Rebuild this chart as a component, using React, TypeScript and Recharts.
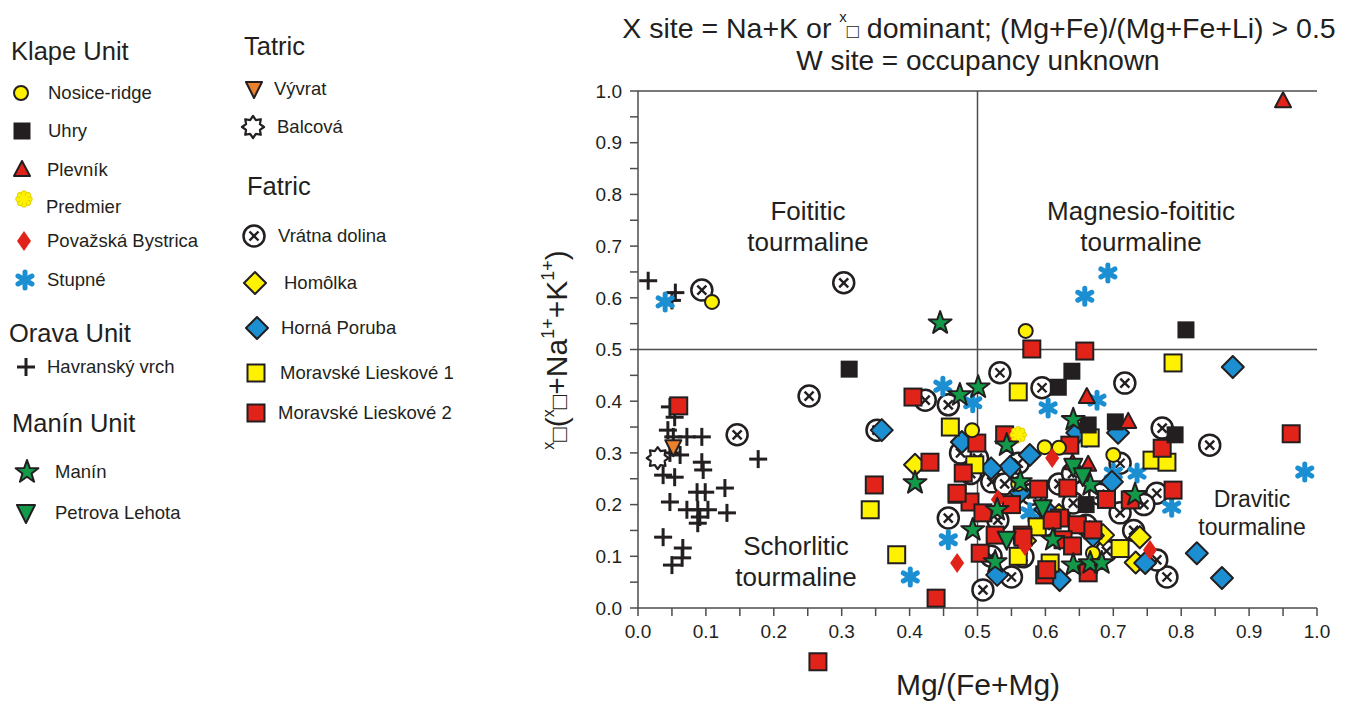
import React from "react";
import { ScatterChart, Scatter, XAxis, YAxis, ReferenceLine, ReferenceDot } from "recharts";

// --- colours / fonts ---
const INK = "#231f20";
const RED = "#e2231a";
const YELLOW = "#fff200";
const BLUE = "#1b8fd2";
const GREEN = "#129a48";
const ORANGE = "#e9812d";
const AXIS = "#4d4d4d";
const FONT = "'Liberation Sans', Arial, sans-serif";

// --- data: [Mg/(Fe+Mg), X-site vacancy] ---
const havranskyVrch = [
  [0.015, 0.633], [0.055, 0.61], [0.05, 0.595],
  [0.047, 0.389], [0.054, 0.369], [0.044, 0.344], [0.052, 0.331], [0.072, 0.331], [0.094, 0.331],
  [0.047, 0.3], [0.062, 0.296], [0.094, 0.282], [0.096, 0.267], [0.037, 0.257], [0.054, 0.253],
  [0.177, 0.288], [0.087, 0.224], [0.099, 0.224], [0.128, 0.232], [0.047, 0.205], [0.072, 0.19],
  [0.088, 0.19], [0.091, 0.176], [0.103, 0.19], [0.131, 0.184], [0.088, 0.164], [0.037, 0.137],
  [0.066, 0.116], [0.065, 0.097], [0.05, 0.083],
];
const balcova = [[0.029, 0.29]];
const vyvrat = [[0.052, 0.311]];
const vratnaDolina = [
  [0.094, 0.615], [0.303, 0.629], [0.252, 0.41], [0.146, 0.335], [0.352, 0.344], [0.533, 0.455],
  [0.595, 0.426], [0.423, 0.402], [0.457, 0.393], [0.717, 0.435], [0.772, 0.348], [0.842, 0.315],
  [0.764, 0.222], [0.779, 0.06], [0.764, 0.093], [0.457, 0.174], [0.508, 0.035], [0.567, 0.099],
  [0.521, 0.244], [0.71, 0.184], [0.641, 0.203], [0.68, 0.22], [0.49, 0.26], [0.5, 0.29],
  [0.56, 0.28], [0.6, 0.16], [0.52, 0.1], [0.73, 0.15], [0.745, 0.2], [0.62, 0.24], [0.71, 0.28],
  [0.475, 0.3], [0.69, 0.11], [0.53, 0.17], [0.55, 0.06], [0.58, 0.22], [0.64, 0.26], [0.66, 0.16],
  [0.54, 0.24],
];
const stupne = [
  [0.04, 0.592], [0.692, 0.648], [0.658, 0.603], [0.449, 0.429], [0.493, 0.397], [0.604, 0.387],
  [0.676, 0.402], [0.7, 0.261], [0.735, 0.261], [0.786, 0.195], [0.982, 0.263], [0.457, 0.132],
  [0.401, 0.06], [0.577, 0.184], [0.66, 0.33],
];
const homolka = [[0.408, 0.277], [0.739, 0.137], [0.733, 0.088], [0.685, 0.141], [0.57, 0.13], [0.62, 0.18]];
const hornaPoruba = [
  [0.876, 0.466], [0.823, 0.106], [0.86, 0.058], [0.747, 0.087], [0.698, 0.244], [0.707, 0.339],
  [0.647, 0.339], [0.359, 0.344], [0.477, 0.321], [0.577, 0.296], [0.548, 0.273], [0.529, 0.064],
  [0.563, 0.224], [0.621, 0.054], [0.67, 0.14], [0.6, 0.19], [0.52, 0.27],
];
const lieskove1 = [
  [0.342, 0.19], [0.381, 0.103], [0.788, 0.474], [0.56, 0.418], [0.46, 0.35], [0.496, 0.277],
  [0.666, 0.329], [0.757, 0.286], [0.779, 0.282], [0.607, 0.087], [0.588, 0.157], [0.47, 0.22],
  [0.71, 0.115], [0.56, 0.1],
];
const lieskove2 = [
  [0.06, 0.391], [0.348, 0.238], [0.439, 0.019], [0.405, 0.408], [0.43, 0.282], [0.58, 0.501],
  [0.658, 0.497], [0.962, 0.337], [0.499, 0.319], [0.54, 0.335], [0.636, 0.315], [0.772, 0.309],
  [0.788, 0.228], [0.633, 0.232], [0.647, 0.161], [0.67, 0.151], [0.663, 0.068], [0.479, 0.261],
  [0.489, 0.205], [0.508, 0.184], [0.504, 0.106], [0.566, 0.141], [0.599, 0.064], [0.621, 0.174],
  [0.47, 0.222], [0.526, 0.141], [0.567, 0.137], [0.61, 0.17], [0.626, 0.132], [0.602, 0.074],
  [0.725, 0.209], [0.59, 0.23], [0.55, 0.2], [0.69, 0.21], [0.64, 0.12],
];
// this one sits below the axis in the original
const lieskove2Below = [[0.265, -0.104]];
const nosiceRidge = [[0.109, 0.592], [0.571, 0.536], [0.492, 0.344], [0.599, 0.311], [0.7, 0.296], [0.67, 0.106], [0.56, 0.24], [0.62, 0.31]];
const uhry = [[0.311, 0.462], [0.807, 0.538], [0.639, 0.458], [0.619, 0.427], [0.663, 0.354], [0.703, 0.36], [0.791, 0.335], [0.66, 0.2]];
const plevnik = [[0.95, 0.98], [0.661, 0.408], [0.722, 0.36], [0.663, 0.277], [0.64, 0.28]];
const predmier = [[0.56, 0.335]];
const povazskaBystrica = [[0.61, 0.29], [0.47, 0.087], [0.754, 0.112], [0.57, 0.12], [0.53, 0.21]];
const manin = [
  [0.445, 0.551], [0.501, 0.427], [0.474, 0.412], [0.543, 0.315], [0.641, 0.364], [0.408, 0.242],
  [0.493, 0.151], [0.529, 0.19], [0.526, 0.089], [0.563, 0.244], [0.666, 0.238], [0.732, 0.219],
  [0.611, 0.132], [0.641, 0.083], [0.666, 0.087], [0.683, 0.087],
];
const petrovaLehota = [[0.641, 0.273], [0.596, 0.193], [0.543, 0.132], [0.655, 0.255]];

const axisTicks = [0, 0.05, 0.1, 0.15, 0.2, 0.25, 0.3, 0.35, 0.4, 0.45, 0.5, 0.55, 0.6, 0.65, 0.7, 0.75, 0.8, 0.85, 0.9, 0.95, 1];

const pts = (a: number[][]) => a.map(([x, y]) => ({ x, y }));

const starPoints = (cx: number, cy: number, n: number, ro: number, ri: number) => {
  const p: string[] = [];
  for (let i = 0; i < n * 2; i++) {
    const r = i % 2 === 0 ? ro : ri;
    const a = -Math.PI / 2 + (i * Math.PI) / n;
    p.push(`${cx + r * Math.cos(a)},${cy + r * Math.sin(a)}`);
  }
  return p.join(" ");
};

type Kind =
  | "plus" | "sun" | "orangeTri" | "circleX" | "asterisk" | "yellowDiamond" | "blueDiamond"
  | "yellowSquare" | "redSquare" | "circle" | "blackSquare" | "redTri" | "flower" | "redDiamond"
  | "star" | "greenTri";

function Marker({ kind, cx, cy }: { kind: Kind; cx: number; cy: number }) {
  if (cx == null || cy == null) return null;
  switch (kind) {
    case "plus":
      return (
        <g stroke={INK} strokeWidth={3}>
          <line x1={cx - 9} y1={cy} x2={cx + 9} y2={cy} />
          <line x1={cx} y1={cy - 9} x2={cx} y2={cy + 9} />
        </g>
      );
    case "sun":
      return <polygon points={starPoints(cx, cy, 8, 11, 7.5)} fill="#fff" stroke={INK} strokeWidth={2.2} strokeLinejoin="round" />;
    case "orangeTri":
      return <polygon points={`${cx - 8},${cy - 7} ${cx + 8},${cy - 7} ${cx},${cy + 9}`} fill={ORANGE} stroke={INK} strokeWidth={2} strokeLinejoin="round" />;
    case "greenTri":
      return <polygon points={`${cx - 9},${cy - 8} ${cx + 9},${cy - 8} ${cx},${cy + 10}`} fill={GREEN} stroke={INK} strokeWidth={2} strokeLinejoin="round" />;
    case "redTri":
      return <polygon points={`${cx},${cy - 9} ${cx + 8},${cy + 6} ${cx - 8},${cy + 6}`} fill={RED} stroke={INK} strokeWidth={2} strokeLinejoin="round" />;
    case "circleX":
      return (
        <g>
          <circle cx={cx} cy={cy} r={10.5} fill="#fff" stroke={INK} strokeWidth={2.5} />
          <g stroke={INK} strokeWidth={2.4}>
            <line x1={cx - 4.5} y1={cy - 4.5} x2={cx + 4.5} y2={cy + 4.5} />
            <line x1={cx - 4.5} y1={cy + 4.5} x2={cx + 4.5} y2={cy - 4.5} />
          </g>
        </g>
      );
    case "asterisk":
      return (
        <g stroke={BLUE} strokeWidth={5} strokeLinecap="round">
          <line x1={cx} y1={cy - 8} x2={cx} y2={cy + 8} />
          <line x1={cx - 7} y1={cy - 4} x2={cx + 7} y2={cy + 4} />
          <line x1={cx - 7} y1={cy + 4} x2={cx + 7} y2={cy - 4} />
        </g>
      );
    case "yellowDiamond":
    case "blueDiamond":
      return (
        <polygon
          points={`${cx},${cy - 11} ${cx + 11},${cy} ${cx},${cy + 11} ${cx - 11},${cy}`}
          fill={kind === "blueDiamond" ? BLUE : YELLOW}
          stroke={INK}
          strokeWidth={2}
          strokeLinejoin="round"
        />
      );
    case "redDiamond":
      return <polygon points={`${cx},${cy - 10} ${cx + 7},${cy} ${cx},${cy + 10} ${cx - 7},${cy}`} fill={RED} />;
    case "yellowSquare":
    case "redSquare":
      return <rect x={cx - 8.5} y={cy - 8.5} width={17} height={17} fill={kind === "redSquare" ? RED : YELLOW} stroke={INK} strokeWidth={2} />;
    case "blackSquare":
      return <rect x={cx - 8.5} y={cy - 8.5} width={17} height={17} fill={INK} />;
    case "circle":
      return <circle cx={cx} cy={cy} r={7} fill={YELLOW} stroke={INK} strokeWidth={2} />;
    case "flower":
      return (
        <g fill={YELLOW} stroke="#d9c800" strokeWidth={0.8}>
          {[0, 1, 2, 3, 4, 5, 6, 7].map((i) => (
            <circle key={i} cx={cx + 5.5 * Math.cos((i * Math.PI) / 4)} cy={cy + 5.5 * Math.sin((i * Math.PI) / 4)} r={2.8} />
          ))}
          <circle cx={cx} cy={cy} r={4} stroke="none" />
        </g>
      );
    case "star":
      return <polygon points={starPoints(cx, cy, 5, 12, 4.8)} fill={GREEN} stroke={INK} strokeWidth={2} strokeLinejoin="round" />;
  }
  return null;
}

const shape = (kind: Kind) => (p: any) => <Marker kind={kind} cx={p.cx} cy={p.cy} />;

// draw order: back to front
const series: { data: number[][]; kind: Kind }[] = [
  { data: havranskyVrch, kind: "plus" },
  { data: balcova, kind: "sun" },
  { data: vyvrat, kind: "orangeTri" },
  { data: vratnaDolina, kind: "circleX" },
  { data: stupne, kind: "asterisk" },
  { data: homolka, kind: "yellowDiamond" },
  { data: hornaPoruba, kind: "blueDiamond" },
  { data: lieskove1, kind: "yellowSquare" },
  { data: lieskove2, kind: "redSquare" },
  { data: nosiceRidge, kind: "circle" },
  { data: uhry, kind: "blackSquare" },
  { data: plevnik, kind: "redTri" },
  { data: predmier, kind: "flower" },
  { data: povazskaBystrica, kind: "redDiamond" },
  { data: manin, kind: "star" },
  { data: petrovaLehota, kind: "greenTri" },
];

const legendItems: { label: string; kind: Kind; mx: number; my: number; tx: number }[] = [
  { label: "Nosice-ridge", kind: "circle", mx: 21, my: 93, tx: 48 },
  { label: "Uhry", kind: "blackSquare", mx: 22, my: 131, tx: 48 },
  { label: "Plevník", kind: "redTri", mx: 22, my: 170, tx: 47 },
  { label: "Predmier", kind: "flower", mx: 24, my: 199, tx: 46 },
  { label: "Považská Bystrica", kind: "redDiamond", mx: 24, my: 241, tx: 47 },
  { label: "Stupné", kind: "asterisk", mx: 25, my: 280, tx: 47 },
  { label: "Havranský vrch", kind: "plus", mx: 26, my: 367, tx: 47 },
  { label: "Manín", kind: "star", mx: 27, my: 472, tx: 55 },
  { label: "Petrova Lehota", kind: "greenTri", mx: 26, my: 513, tx: 55 },
  { label: "Vývrat", kind: "orangeTri", mx: 254, my: 89, tx: 274 },
  { label: "Balcová", kind: "sun", mx: 253, my: 127, tx: 277 },
  { label: "Vrátna dolina", kind: "circleX", mx: 254, my: 236, tx: 278 },
  { label: "Homôlka", kind: "yellowDiamond", mx: 255, my: 283, tx: 284 },
  { label: "Horná Poruba", kind: "blueDiamond", mx: 257, my: 328, tx: 281 },
  { label: "Moravské Lieskové 1", kind: "yellowSquare", mx: 256, my: 373, tx: 280 },
  { label: "Moravské Lieskové 2", kind: "redSquare", mx: 256, my: 413, tx: 278 },
];

const headers = [
  { label: "Klape Unit", x: 11, y: 51 },
  { label: "Orava Unit", x: 9, y: 333 },
  { label: "Manín Unit", x: 12, y: 423 },
  { label: "Tatric", x: 244, y: 46 },
  { label: "Fatric", x: 247, y: 186 },
];

const fieldLabels = [
  { lines: ["Foititic", "tourmaline"], x: 808, y: 211, size: 26 },
  { lines: ["Magnesio-foititic", "tourmaline"], x: 1141, y: 211, size: 26 },
  { lines: ["Schorlitic", "tourmaline"], x: 796, y: 546, size: 26 },
  { lines: ["Dravitic", "tourmaline"], x: 1252, y: 499, size: 23 },
];

const App = () => {
  const tickStyle = { fill: INK, fontSize: 19, fontFamily: FONT };
  return (
    <div style={{ position: "absolute", left: 0, top: 0, width: 1351, height: 704, background: "#fff", fontFamily: FONT }}>
      <ScatterChart width={1351} height={704} margin={{ top: 91, right: 34, bottom: 66, left: 578 }}>
        <XAxis
          type="number"
          dataKey="x"
          domain={[0, 1]}
          ticks={axisTicks}
          interval={0}
          tickFormatter={(v: number, i: number) => (i % 2 === 0 ? v.toFixed(1) : "")}
          tick={tickStyle}
          tickSize={8}
          tickMargin={9}
          stroke={AXIS}
          strokeWidth={1.5}
          height={30}
        />
        <YAxis
          yAxisId="left"
          type="number"
          dataKey="y"
          domain={[0, 1]}
          ticks={axisTicks}
          interval={0}
          tickFormatter={(v: number, i: number) => (i % 2 === 0 ? v.toFixed(1) : "")}
          tick={tickStyle}
          tickSize={8}
          tickMargin={8}
          stroke={AXIS}
          strokeWidth={1.5}
          width={60}
        />
        <YAxis
          yAxisId="right"
          orientation="right"
          type="number"
          dataKey="y"
          domain={[0, 1]}
          ticks={axisTicks}
          interval={0}
          mirror
          tickFormatter={() => ""}
          tickSize={10}
          stroke={AXIS}
          strokeWidth={1.5}
          width={0}
        />
        <ReferenceLine y={1} yAxisId="left" stroke={AXIS} strokeWidth={1.5} />
        <ReferenceLine x={0.5} yAxisId="left" stroke={AXIS} strokeWidth={1.5} />
        <ReferenceLine y={0.5} yAxisId="left" stroke={AXIS} strokeWidth={1.5} />
        {series.map((s, i) => (
          <Scatter key={i} data={pts(s.data)} yAxisId="left" isAnimationActive={false} shape={shape(s.kind)} />
        ))}
        {lieskove2Below.map(([x, y], i) => (
          <ReferenceDot key={i} x={x} y={y} yAxisId="left" ifOverflow="visible" shape={shape("redSquare")} />
        ))}
      </ScatterChart>

      <svg width={1351} height={704} style={{ position: "absolute", left: 0, top: 0, pointerEvents: "none" }} fontFamily={FONT}>
        {/* title */}
        <text x={979} y={38} textAnchor="middle" fontSize={28.5} fill={INK}>
          X site = Na+K or <tspan fontSize={15} dy={-16}>x</tspan>
          <tspan fontSize={20} dy={16}>□</tspan> dominant; (Mg+Fe)/(Mg+Fe+Li) &gt; 0.5
        </text>
        <text x={978} y={70} textAnchor="middle" fontSize={28} fill={INK}>
          W site = occupancy unknown
        </text>

        {/* axis titles */}
        <text x={978} y={695} textAnchor="middle" fontSize={30} fill={INK}>
          Mg/(Fe+Mg)
        </text>
        <text transform="translate(567,350) rotate(-90)" textAnchor="middle" fontSize={30} fill={INK}>
          <tspan fontSize={16} dy={-13}>x</tspan>
          <tspan fontSize={24} dy={13}>□</tspan>
          <tspan>(</tspan>
          <tspan fontSize={16} dy={-13}>x</tspan>
          <tspan fontSize={24} dy={13}>□</tspan>
          <tspan>+Na</tspan>
          <tspan fontSize={18} dy={-13}>1+</tspan>
          <tspan dy={13}>+K</tspan>
          <tspan fontSize={18} dy={-13}>1+</tspan>
          <tspan dy={13}>)</tspan>
        </text>

        {/* field names */}
        {fieldLabels.map((f, i) => (
          <text key={i} x={f.x} textAnchor="middle" fontSize={f.size} fill={INK}>
            {f.lines.map((l, j) => (
              <tspan key={j} x={f.x} y={f.y + j * (f.size + 5)} dy="0.35em">
                {l}
              </tspan>
            ))}
          </text>
        ))}

        {/* legend */}
        {headers.map((h, i) => (
          <text key={i} x={h.x} y={h.y} dy="0.35em" fontSize={25.5} fill={INK}>
            {h.label}
          </text>
        ))}
        {legendItems.map((it, i) => (
          <g key={i}>
            <Marker kind={it.kind} cx={it.mx} cy={it.my} />
            <text x={it.tx} y={it.kind === "flower" ? it.my + 8 : it.my} dy="0.35em" fontSize={18.5} fill={INK}>
              {it.label}
            </text>
          </g>
        ))}
      </svg>
    </div>
  );
};

export default App;
